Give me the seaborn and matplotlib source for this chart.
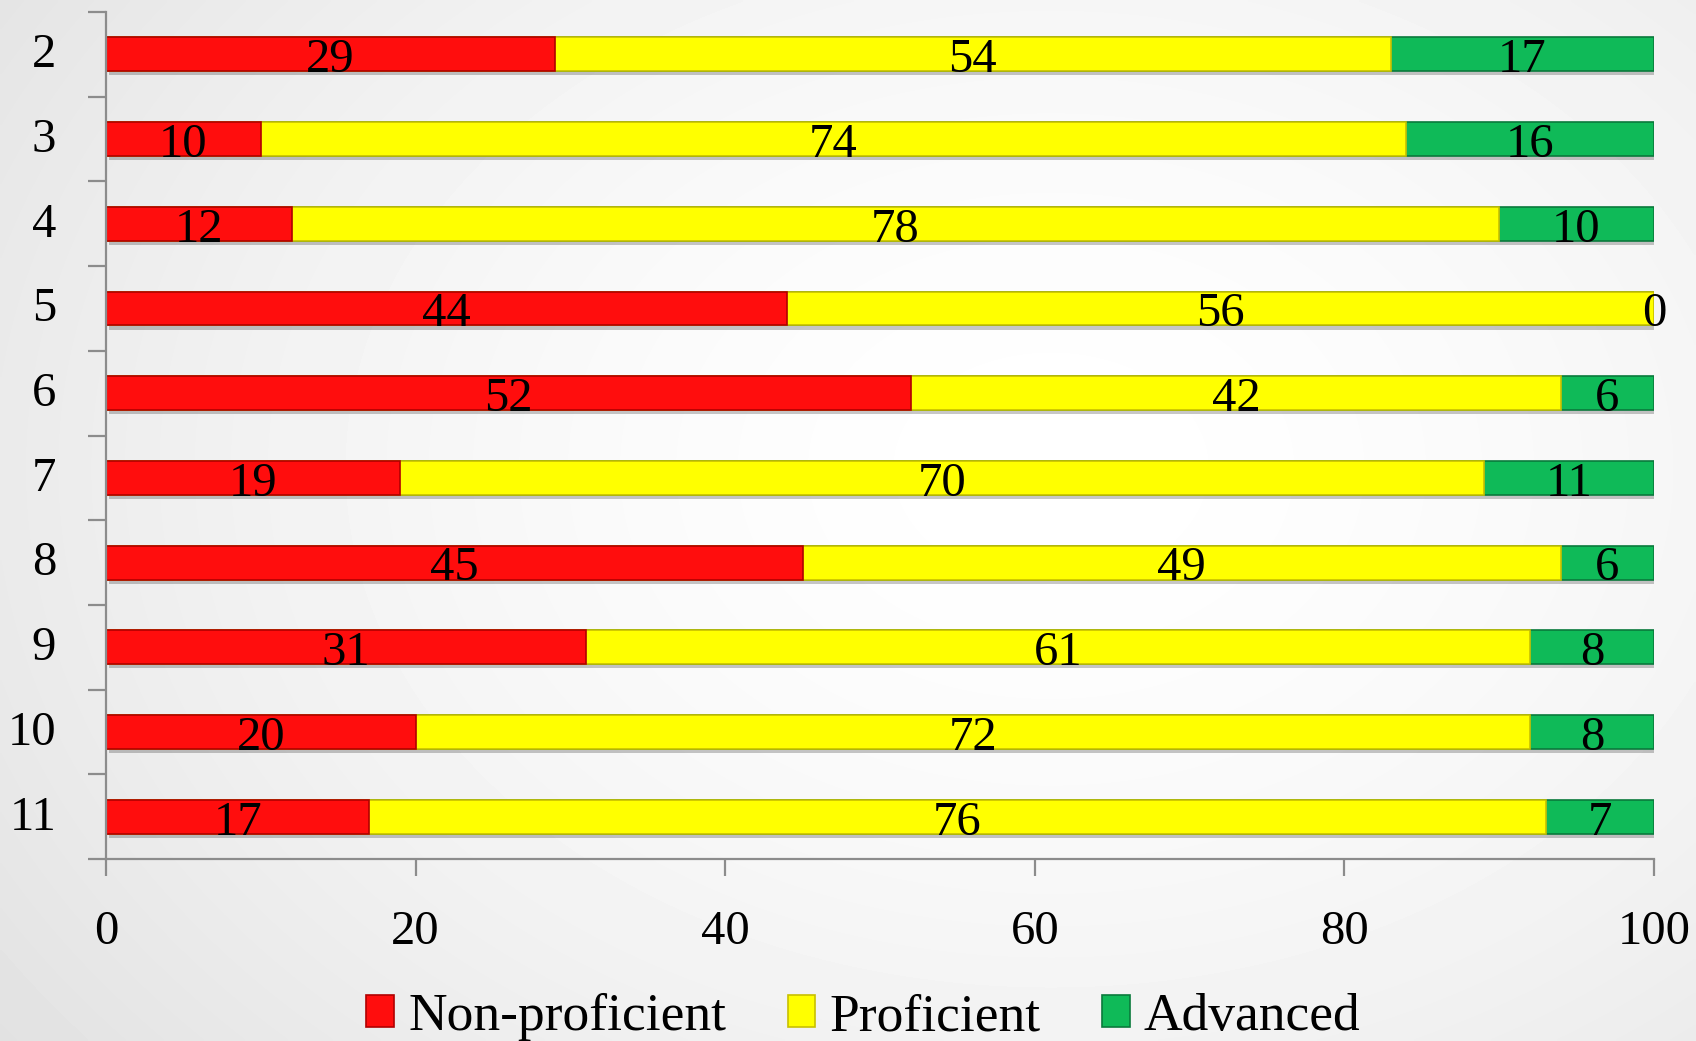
import numpy as np
import pandas as pd
import matplotlib
matplotlib.use("Agg")
import matplotlib.pyplot as plt
import matplotlib.patheffects as pe
import matplotlib.transforms as mtransforms
from matplotlib.patches import Patch
import seaborn as sns

# Proficiency distribution (%) by grade
grades = ["2", "3", "4", "5", "6", "7", "8", "9", "10", "11"]
non_proficient = [29, 10, 12, 44, 52, 19, 45, 31, 20, 17]
proficient = [54, 74, 78, 56, 42, 70, 49, 61, 72, 76]
advanced = [17, 16, 10, 0, 6, 11, 6, 8, 8, 7]
x_ticks = [0, 20, 40, 60, 80, 100]

series = ["Non-proficient", "Proficient", "Advanced"]
face_colors = ["#FF0D0D", "#FFFF00", "#0FBA58"]
edge_colors = ["#B00000", "#C8C000", "#0A7A3C"]

df = pd.DataFrame({"grade": grades, "Non-proficient": non_proficient,
                   "Proficient": proficient, "Advanced": advanced})
df["cum1"] = df["Non-proficient"]
df["cum2"] = df["cum1"] + df["Proficient"]
df["cum3"] = df["cum2"] + df["Advanced"]

sns.set_theme(style="white")
plt.rcParams["font.family"] = ["Liberation Serif", "DejaVu Serif"]
plt.rcParams["text.color"] = "black"
FS = 35
LEG_FS = 38.5

fig = plt.figure(figsize=(16.96, 10.41), dpi=100)

# soft radial gray background
bg = fig.add_axes([0, 0, 1, 1], zorder=-10)
yy, xx = np.mgrid[0:1:300j, 0:1:500j]
r = np.sqrt(((xx - 0.62) / 0.75) ** 2 + ((yy - 0.45) / 0.9) ** 2)
shade = 1.0 - 0.11 * np.clip(r, 0, 1.2) ** 1.6
bg.imshow(shade, cmap="gray", vmin=0, vmax=1, aspect="auto",
          extent=[0, 1, 0, 1], interpolation="bilinear")
bg.set_axis_off()

ax = fig.add_axes([0.0625, 0.1748, 0.9127, 0.8137])
ax.patch.set_alpha(0)

shadow = [pe.SimplePatchShadow(offset=(2, -3), shadow_rgbFace="#000000", alpha=0.22), pe.Normal()]
layers = [("cum3", 2), ("cum2", 1), ("cum1", 0)]
for col, i in layers:
    sns.barplot(data=df, x=col, y="grade", order=grades, orient="h", ax=ax,
                color=face_colors[i], edgecolor=edge_colors[i], linewidth=1.2,
                width=0.40, saturation=1, errorbar=None)
for k, p in enumerate(ax.patches):
    if k < len(grades):
        p.set_path_effects(shadow)

# value labels centred in each segment
for j, g in enumerate(grades):
    starts = [0, non_proficient[j], non_proficient[j] + proficient[j]]
    vals = [non_proficient[j], proficient[j], advanced[j]]
    for s, v in zip(starts, vals):
        ax.text(s + v / 2, j + 0.07, str(v), ha="center", va="center",
                fontsize=FS, color="black", zorder=5)

ax.set_xlim(0, 100)
ax.set_ylim(len(grades) - 0.5, -0.5)
ax.set_xticks(x_ticks)
ax.set_xticklabels([str(t) for t in x_ticks])
ax.set_xlabel("")
ax.set_ylabel("")

for side in ["top", "right"]:
    ax.spines[side].set_visible(False)
for side in ["left", "bottom"]:
    ax.spines[side].set_color("#8C8C8C")
    ax.spines[side].set_linewidth(1.6)

ax.set_yticks(np.arange(len(grades) + 1) - 0.5, minor=True)
ax.tick_params(axis="y", which="major", length=0, pad=36, labelsize=FS)
ax.tick_params(axis="y", which="minor", length=13, width=1.6, color="#8C8C8C", direction="out", left=True)
ax.tick_params(axis="x", which="major", length=12, width=1.6, color="#8C8C8C", direction="out",
               pad=25, labelsize=FS, bottom=True)
for lab in ax.get_yticklabels() + ax.get_xticklabels():
    lab.set_color("black")

# nudge grade labels up slightly
lift = mtransforms.ScaledTranslation(0, 3 / 72, fig.dpi_scale_trans)
for lab in ax.get_yticklabels():
    lab.set_transform(lab.get_transform() + lift)

handles = [Patch(facecolor=face_colors[i], edgecolor=edge_colors[i], linewidth=1.2, label=series[i])
           for i in range(3)]
leg = fig.legend(handles=handles, loc="center", bbox_to_anchor=(0.509, 0.023), ncol=3, frameon=False,
                 fontsize=LEG_FS, handlelength=0.52, handleheight=0.56, handletextpad=0.26,
                 columnspacing=1.15)
for t in leg.get_texts():
    t.set_color("black")

fig.savefig("out.png", dpi=100)
